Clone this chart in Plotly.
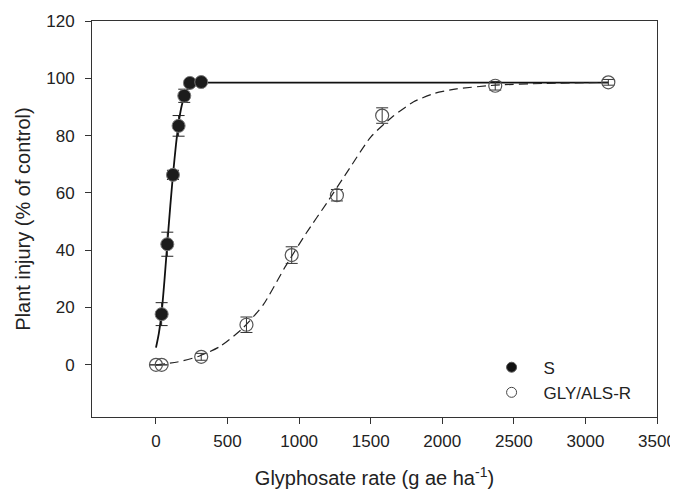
import plotly.graph_objects as go

# observed data (glyphosate rate in g ae/ha, injury in % of control)
s_rate = [39.5, 79, 118.5, 158, 197.5, 237, 316]
s_injury = [17.7, 42.1, 66.3, 83.4, 93.9, 98.4, 98.7]
s_err = [4.0, 4.2, 1.6, 3.6, 2.3, 1.0, 0.5]

r_rate = [0, 39.5, 316, 632, 948, 1264, 1580, 2370, 3160]
r_injury = [0, 0, 2.8, 14.0, 38.3, 59.2, 87.0, 97.4, 98.6]
r_err = [0, 0, 1.2, 2.7, 2.9, 2.0, 2.7, 1.5, 1.0]

# fitted curves
s_fit_rate = [0, 20, 40, 60, 80, 100, 120, 140, 160, 180, 200, 220, 240, 270, 316, 3160]
s_fit_injury = [6, 11, 18.5, 30, 43, 55.5, 67, 77, 85, 90.5, 94, 96.3, 97.6, 98.3, 98.5, 98.5]

r_fit_rate = [0, 150, 300, 450, 600, 750, 900, 1050, 1200, 1350, 1500, 1650, 1800, 1950, 2100, 2370, 2700, 3160]
r_fit_injury = [0, 1, 3, 6.5, 12.5, 21, 34, 46, 57, 68.4, 79.5, 86.5, 91.8, 94.8, 96.3, 97.6, 98.2, 98.6]

fig = go.Figure()

# courbes ajustees
fig.add_trace(go.Scatter(x=s_fit_rate, y=s_fit_injury, mode="lines",
                         line=dict(color="#111111", width=1.8, shape="spline", smoothing=0.6),
                         showlegend=False, hoverinfo="skip"))
fig.add_trace(go.Scatter(x=r_fit_rate, y=r_fit_injury, mode="lines",
                         line=dict(color="#222222", width=1.2, dash="9px,5px", shape="spline", smoothing=0.6),
                         showlegend=False, hoverinfo="skip"))

# points observes
fig.add_trace(go.Scatter(x=s_rate, y=s_injury, mode="markers", showlegend=False,
                         marker=dict(symbol="circle", size=13, color="#1c1c1c",
                                     line=dict(color="#777777", width=1)),
                         error_y=dict(type="data", array=s_err, color="#222222", thickness=1, width=6)))
fig.add_trace(go.Scatter(x=r_rate, y=r_injury, mode="markers", showlegend=False,
                         marker=dict(symbol="circle-open", size=13, color="#555555",
                                     line=dict(width=1.2)),
                         error_y=dict(type="data", array=r_err, color="#333333", thickness=1, width=6)))

# entrees de legende (symboles plus petits que les points)
fig.add_trace(go.Scatter(x=[None], y=[None], mode="markers", name="S",
                         marker=dict(symbol="circle", size=10, color="#111111",
                                     line=dict(color="#555555", width=1))))
fig.add_trace(go.Scatter(x=[None], y=[None], mode="markers", name="GLY/ALS-R",
                         marker=dict(symbol="circle-open", size=10, color="#444444",
                                     line=dict(width=1))))

font_name = "Liberation Sans, Arial, sans-serif"

# la page ajoute une marge de 8 px autour du graphique
fig.update_layout(
    width=670, height=481,
    margin=dict(l=84, r=21, t=13, b=72),
    paper_bgcolor="white", plot_bgcolor="white",
    font=dict(family=font_name, size=17, color="#222222"),
    legend=dict(x=0.686, y=0.17, xanchor="left", yanchor="top",
                bgcolor="rgba(0,0,0,0)", itemwidth=54,
                font=dict(size=17)),
)
fig.update_xaxes(range=[-447, 3500], tickvals=[0, 500, 1000, 1500, 2000, 2500, 3000, 3500],
                 showgrid=False, zeroline=False, showline=True, mirror=True,
                 linecolor="#333333", linewidth=1, ticks="outside", ticklen=6,
                 tickcolor="#333333", ticklabelstandoff=3, automargin=False,
                 title=dict(text="Glyphosate rate (g ae ha<sup>-1</sup>)", standoff=22))
fig.update_yaxes(range=[-18.2, 120], tickvals=[0, 20, 40, 60, 80, 100, 120],
                 showgrid=False, zeroline=False, showline=True, mirror=True,
                 linecolor="#333333", linewidth=1, ticks="outside", ticklen=6,
                 tickcolor="#333333", ticklabelstandoff=7, automargin=False,
                 title=dict(text="Plant injury (% of control)", standoff=10))

fig.write_html("out.html")
